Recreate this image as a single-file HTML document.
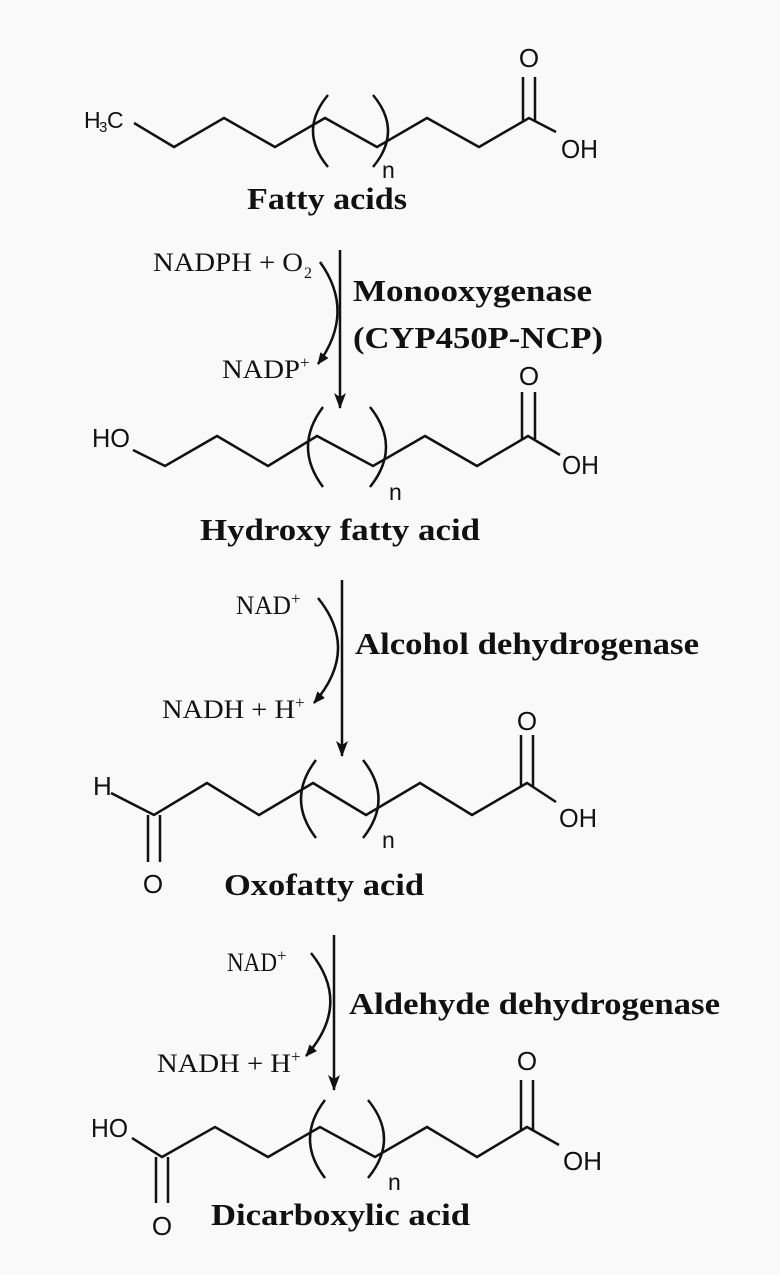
<!DOCTYPE html>
<html><head><meta charset="utf-8"><style>
html,body{margin:0;padding:0;background:#f9f9f9;}
svg{display:block;}
.s{font-family:"Liberation Sans",Arial,sans-serif;fill:#111;}
.r{font-family:"Liberation Serif","Times New Roman",serif;fill:#111;}
.b{font-family:"Liberation Serif","Times New Roman",serif;font-weight:bold;fill:#111;}
</style></head><body>
<svg width="780" height="1275" viewBox="0 0 780 1275" xmlns="http://www.w3.org/2000/svg">
<defs>
<marker id="ah" markerWidth="12" markerHeight="10" refX="11" refY="5" orient="auto" markerUnits="userSpaceOnUse">
<path d="M0,0 L12,5 L0,10 z" fill="#111"/></marker>
<marker id="ah2" markerWidth="16" markerHeight="12" refX="15" refY="6" orient="auto" markerUnits="userSpaceOnUse">
<path d="M0,0 L16,6 L0,12 L4,6 z" fill="#111"/></marker>
</defs>
<g stroke="#111" stroke-width="2.5" fill="none" stroke-linejoin="miter">
<polyline points="134,123 174,147 224,118 275,147 325,118 377,147 427,118 479,147 529,118 556,132"/>
<line x1="523" y1="77" x2="523" y2="121"/><line x1="535" y1="77" x2="535" y2="121"/>
<path d="M328,95 Q298,131 328,167"/><path d="M373,95 Q403,131 373,167"/>
<polyline points="133,450 165,466 217,436 268,466 317,436 373,466 425,436 477,466 528,436 560,455"/>
<line x1="522" y1="392" x2="522" y2="439"/><line x1="535" y1="392" x2="535" y2="439"/>
<path d="M323,407 Q293,447 323,487"/><path d="M370,407 Q402,447 370,487"/>
<polyline points="111,793 154,815 207,783 259,815 313,783 366,815 420,783 472,815 527,783 556,802"/>
<line x1="521" y1="735" x2="521" y2="786"/><line x1="533" y1="735" x2="533" y2="786"/>
<line x1="148" y1="815" x2="148" y2="862"/><line x1="160" y1="815" x2="160" y2="862"/>
<path d="M316,760 Q286,799 316,838"/><path d="M363,760 Q394,799 363,838"/>
<polyline points="132,1138 162,1157 215,1127 268,1157 320,1127 375,1157 427,1127 477,1157 527,1127 559,1145"/>
<line x1="521" y1="1080" x2="521" y2="1130"/><line x1="533" y1="1080" x2="533" y2="1130"/>
<line x1="156" y1="1157" x2="156" y2="1203"/><line x1="168" y1="1157" x2="168" y2="1203"/>
<path d="M325,1100 Q295,1139 325,1178"/><path d="M368,1100 Q400,1139 368,1178"/>
<line x1="340" y1="250" x2="340" y2="408" marker-end="url(#ah2)"/>
<path d="M320,262 Q356,312 318,364" marker-end="url(#ah)"/>
<line x1="342" y1="580" x2="342" y2="756" marker-end="url(#ah2)"/>
<path d="M318,598 Q360,650 314,703" marker-end="url(#ah)"/>
<line x1="334" y1="935" x2="334" y2="1090" marker-end="url(#ah2)"/>
<path d="M311,953 Q352,1004 306,1056" marker-end="url(#ah)"/>
</g>
<text class="s" x="84" y="128" font-size="23">H</text>
<text class="s" x="99" y="132" font-size="15">3</text>
<text class="s" x="107" y="128" font-size="23">C</text>
<text class="s" x="561" y="158" font-size="26" textLength="37" lengthAdjust="spacingAndGlyphs">OH</text>
<text class="s" x="529" y="67" font-size="26" text-anchor="middle">O</text>
<text class="s" x="382" y="178" font-size="23">n</text>
<text class="b" x="247" y="209" font-size="31" textLength="160" lengthAdjust="spacingAndGlyphs">Fatty acids</text>
<text class="r" x="153" y="271" font-size="26" textLength="150" lengthAdjust="spacingAndGlyphs">NADPH + O</text>
<text class="r" x="304" y="278" font-size="16">2</text>
<text class="b" x="353" y="301" font-size="31" textLength="239" lengthAdjust="spacingAndGlyphs">Monooxygenase</text>
<text class="b" x="353" y="348" font-size="31" textLength="250" lengthAdjust="spacingAndGlyphs">(CYP450P-NCP)</text>
<text class="r" x="222" y="378" font-size="26" textLength="78" lengthAdjust="spacingAndGlyphs">NADP</text>
<text class="r" x="300" y="368" font-size="17">+</text>
<text class="s" x="92" y="447" font-size="26" textLength="38" lengthAdjust="spacingAndGlyphs">HO</text>
<text class="s" x="562" y="474" font-size="26" textLength="37" lengthAdjust="spacingAndGlyphs">OH</text>
<text class="s" x="529" y="385" font-size="26" text-anchor="middle">O</text>
<text class="s" x="389" y="500" font-size="23">n</text>
<text class="b" x="200" y="540" font-size="31" textLength="280" lengthAdjust="spacingAndGlyphs">Hydroxy fatty acid</text>
<text class="r" x="236" y="614" font-size="26" textLength="55" lengthAdjust="spacingAndGlyphs">NAD</text>
<text class="r" x="291" y="604" font-size="17">+</text>
<text class="b" x="355" y="654" font-size="31" textLength="344" lengthAdjust="spacingAndGlyphs">Alcohol dehydrogenase</text>
<text class="r" x="162" y="718" font-size="26" textLength="133" lengthAdjust="spacingAndGlyphs">NADH + H</text>
<text class="r" x="295" y="708" font-size="17">+</text>
<text class="s" x="93" y="795" font-size="26">H</text>
<text class="s" x="559" y="827" font-size="26" textLength="38" lengthAdjust="spacingAndGlyphs">OH</text>
<text class="s" x="527" y="730" font-size="26" text-anchor="middle">O</text>
<text class="s" x="153" y="893" font-size="26" text-anchor="middle">O</text>
<text class="s" x="382" y="848" font-size="23">n</text>
<text class="b" x="224" y="895" font-size="31" textLength="200" lengthAdjust="spacingAndGlyphs">Oxofatty acid</text>
<text class="r" x="227" y="971" font-size="26" textLength="50" lengthAdjust="spacingAndGlyphs">NAD</text>
<text class="r" x="277" y="961" font-size="17">+</text>
<text class="b" x="349" y="1014" font-size="31" textLength="371" lengthAdjust="spacingAndGlyphs">Aldehyde dehydrogenase</text>
<text class="r" x="157" y="1072" font-size="26" textLength="134" lengthAdjust="spacingAndGlyphs">NADH + H</text>
<text class="r" x="291" y="1062" font-size="17">+</text>
<text class="s" x="91" y="1137" font-size="26" textLength="37" lengthAdjust="spacingAndGlyphs">HO</text>
<text class="s" x="563" y="1170" font-size="26" textLength="39" lengthAdjust="spacingAndGlyphs">OH</text>
<text class="s" x="527" y="1070" font-size="26" text-anchor="middle">O</text>
<text class="s" x="162" y="1235" font-size="26" text-anchor="middle">O</text>
<text class="s" x="388" y="1190" font-size="23">n</text>
<text class="b" x="211" y="1225" font-size="31" textLength="259" lengthAdjust="spacingAndGlyphs">Dicarboxylic acid</text>
</svg>
</body></html>
